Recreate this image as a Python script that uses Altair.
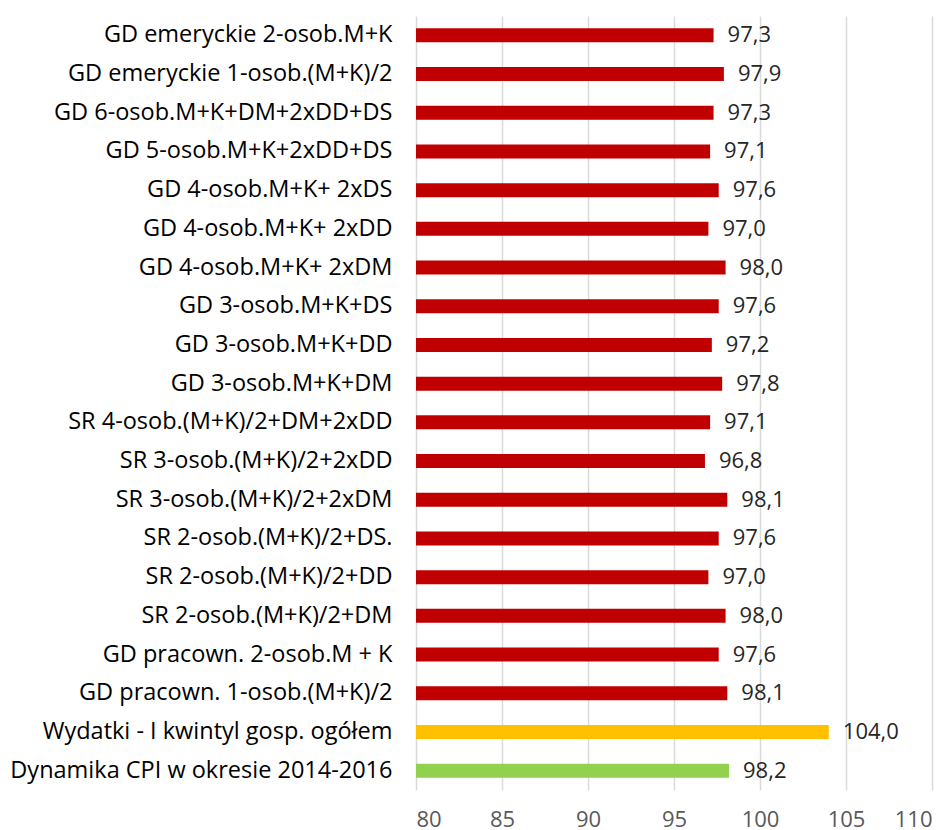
import altair as alt
import pandas as pd

categories = [
    "GD emeryckie 2-osob.M+K",
    "GD emeryckie 1-osob.(M+K)/2",
    "GD 6-osob.M+K+DM+2xDD+DS",
    "GD 5-osob.M+K+2xDD+DS",
    "GD 4-osob.M+K+ 2xDS",
    "GD 4-osob.M+K+ 2xDD",
    "GD 4-osob.M+K+ 2xDM",
    "GD 3-osob.M+K+DS",
    "GD 3-osob.M+K+DD",
    "GD 3-osob.M+K+DM",
    "SR 4-osob.(M+K)/2+DM+2xDD",
    "SR 3-osob.(M+K)/2+2xDD",
    "SR 3-osob.(M+K)/2+2xDM",
    "SR 2-osob.(M+K)/2+DS.",
    "SR 2-osob.(M+K)/2+DD",
    "SR 2-osob.(M+K)/2+DM",
    "GD pracown. 2-osob.M + K",
    "GD pracown. 1-osob.(M+K)/2",
    "Wydatki - I kwintyl gosp. ogółem",
    "Dynamika CPI w okresie 2014-2016",
]
values = [97.3, 97.9, 97.3, 97.1, 97.6, 97.0, 98.0, 97.6, 97.2, 97.8,
          97.1, 96.8, 98.1, 97.6, 97.0, 98.0, 97.6, 98.1, 104.0, 98.2]
colors = ["#C00000"] * 18 + ["#FFC000", "#92D050"]
x_ticks = [80, 85, 90, 95, 100, 105, 110]

df = pd.DataFrame({
    "cat": categories,
    "val": values,
    "color": colors,
    "label": [f"{v:.1f}".replace(".", ",") for v in values],
})

FONT = "Open Sans"

base = alt.Chart(df).encode(
    y=alt.Y("cat:N", sort=categories, title=None,
            axis=alt.Axis(labelFontSize=23.5, labelColor="#000000", labelFont=FONT,
                          labelPadding=24, ticks=False, domain=False, labelLimit=420)),
)

bars = base.mark_bar(size=14).encode(
    x=alt.X("val:Q", scale=alt.Scale(domain=[80, 110], nice=False, zero=False, clamp=True),
            title=None,
            axis=alt.Axis(values=x_ticks, labelFontSize=22, labelColor="#595959", labelFont=FONT,
                          labelPadding=19, ticks=False, domain=False, grid=True,
                          gridColor="#D9D9D9", gridWidth=1.5)),
    color=alt.Color("color:N", scale=None),
)

text = base.mark_text(align="left", baseline="middle", dx=14, fontSize=22,
                      font=FONT, color="#262626").encode(
    x="val:Q",
    text="label:N",
)

chart = (bars + text).properties(
    width=516, height=774,
    autosize=alt.AutoSizeParams(type="none"),
    padding={"left": 408, "top": 8, "right": 10, "bottom": 40},
).configure_view(stroke=None).configure_axisY(grid=False)

chart.save("out.html", embed_options={"renderer": "svg", "actions": False})
